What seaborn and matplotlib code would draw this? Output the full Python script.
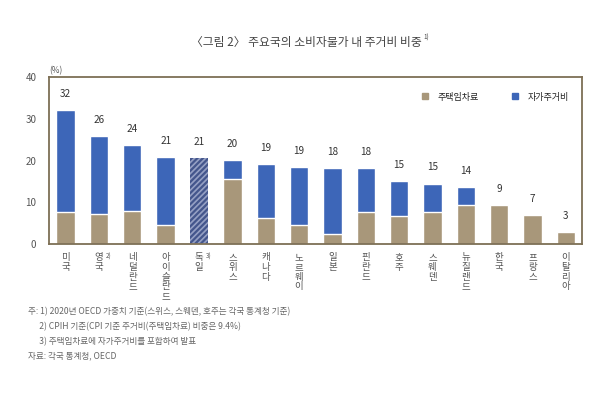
import matplotlib
matplotlib.use("Agg")
import matplotlib.pyplot as plt
import seaborn as sns
import pandas as pd
from matplotlib.lines import Line2D
from matplotlib import transforms

countries = ["미국", "영국", "네덜란드", "아이슬란드", "독일", "스위스", "캐나다", "노르웨이",
             "일본", "핀란드", "호주", "스웨덴", "뉴질랜드", "한국", "프랑스", "이탈리아"]
totals = [32.0, 25.8, 23.7, 20.9, 20.7, 20.1, 19.1, 18.5, 18.2, 18.2, 15.2, 14.5, 13.7, 9.3, 6.9, 2.9]
rent = [7.8, 7.3, 7.9, 4.5, 0.0, 15.5, 6.2, 4.6, 2.5, 7.7, 6.8, 7.6, 9.4, 9.3, 6.9, 2.9]
value_labels = ["32", "26", "24", "21", "21", "20", "19", "19", "18", "18", "15", "15", "14", "9", "7", "3"]
combined_country = "독일"
superscripts = {"영국": "2)", "독일": "3)"}
yticks = [0, 10, 20, 30, 40]

title = "〈그림 2〉 주요국의 소비자물가 내 주거비 비중"
legend_labels = ["주택임차료", "자가주거비"]
notes = [
    "주: 1) 2020년 OECD 가중치 기준(스위스, 스웨덴, 호주는 각국 통계청 기준)",
    "      2) CPIH 기준(CPI 기준 주거비(주택임차료) 비중은 9.4%)",
    "      3) 주택임차료에 자가주거비를 포함하여 발표",
    "자료: 각국 통계청, OECD",
]

BLUE = "#3d66b8"
TAN = "#a8977a"
FRAME = "#7d6f55"
TXT = "#555555"

sns.set_theme(style="white")
plt.rcParams['font.family'] = ['Noto Sans CJK KR', 'DejaVu Sans']
plt.rcParams['hatch.linewidth'] = 1.6

df = pd.DataFrame({"country": countries, "total": totals, "rent": rent})

fig = plt.figure(figsize=(6.16, 3.95), dpi=100)
ax = fig.add_axes([0.0795, 0.382, 0.866, 0.423])

sns.barplot(data=df, x="country", y="total", order=countries, color=BLUE,
            saturation=1, width=0.55, ax=ax)
sns.barplot(data=df, x="country", y="rent", order=countries, color=TAN,
            saturation=1, width=0.55, ax=ax)

n = len(countries)
gi = countries.index(combined_country)
ax.patches[gi].set_facecolor("#95a0c4")
ax.patches[gi].set_hatch("//////")
ax.patches[gi].set_edgecolor("#44568c")
ax.patches[gi].set_linewidth(0)

for i, (t, lab) in enumerate(zip(totals, value_labels)):
    ax.annotate(lab, (i, t), xytext=(0, 8), textcoords="offset points",
                ha="center", va="bottom", fontsize=7.2, color="#333333")

ax.set_xlim(-0.5, n - 0.5)
ax.set_ylim(0, 40)
ax.set_yticks(yticks)
ax.set_yticklabels([str(v) for v in yticks], fontsize=7, color=TXT)
ax.tick_params(axis="y", length=0, pad=9)
ax.set_xticks([])
ax.set_xlabel("")
ax.set_ylabel("")
for s in ax.spines.values():
    s.set_visible(True)
    s.set_color(FRAME)
    s.set_linewidth(1.3)

trans = transforms.blended_transform_factory(ax.transData, ax.transAxes)
for i, c in enumerate(countries):
    ax.text(i, -0.055, "\n".join(c), transform=trans, ha="center", va="top",
            fontsize=6.8, color=TXT, linespacing=1.1)
    if c in superscripts:
        ax.text(i + 0.2, -0.05, superscripts[c], transform=trans, ha="left", va="top",
                fontsize=4.5, color=TXT)

ax.text(0.0, 1.01, "(%)", transform=ax.transAxes, ha="left", va="bottom",
        fontsize=6, color=TXT)

handles = [Line2D([], [], marker="s", linestyle="", color=col, markersize=4)
           for col in (TAN, BLUE)]
ax.legend(handles, legend_labels, loc="center right", bbox_to_anchor=(0.99, 0.88),
          ncol=2, frameon=False, fontsize=6.5, handletextpad=0.4, columnspacing=3.0,
          labelcolor="#222222")

ttl = fig.text(0.497, 0.893, title, ha="center", va="center", fontsize=8.5, color="#444444")
fig.canvas.draw()
bb = ttl.get_window_extent().transformed(fig.transFigure.inverted())
fig.text(bb.x1 + 0.003, 0.905, "1)", ha="left", va="center", fontsize=4.5, color="#444444")

ys = [0.212, 0.174, 0.136, 0.098]
for y, line in zip(ys, notes):
    fig.text(0.045, y, line, ha="left", va="center", fontsize=6.2, color="#666666")

fig.savefig("out.png", dpi=100, facecolor="white")
